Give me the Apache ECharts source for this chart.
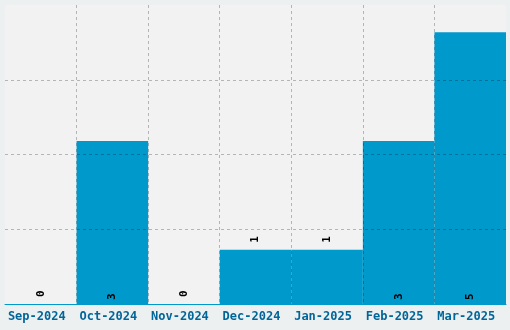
<!DOCTYPE html>
<html>
<head>
<meta charset="utf-8">
<script src="https://cdn.jsdelivr.net/npm/echarts@6/dist/echarts.min.js"></script>
<style>
html,body{margin:0;padding:0;background:#edf0f1;}
#c{width:510px;height:330px;}
</style>
</head>
<body>
<div id="c"></div>
<script>
const categories = ['Sep-2024','Oct-2024','Nov-2024','Dec-2024','Jan-2025','Feb-2025','Mar-2025'];
const counts = [0, 3, 0, 1, 1, 3, 5];
const yMax = 5.5;
const yInterval = 1.375;

const chart = echarts.init(document.getElementById('c'), null, {renderer:'canvas'});
chart.setOption({
  backgroundColor: '#edf0f1',
  animation: false,
  grid: {left: 5, right: 4, top: 5, bottom: 26, show: true, backgroundColor: '#f2f2f2', borderWidth: 0},
  xAxis: {
    type: 'category',
    data: categories,
    z: 5,
    axisLine: {show: true, lineStyle: {color: '#0099cc', width: 1}},
    axisTick: {show: false},
    axisLabel: {
      interval: 0,
      color: '#006699', fontFamily: 'DejaVu Sans Mono', fontWeight: 'bold', fontSize: 12,
      margin: 7, padding: [0, 8, 0, 0]
    },
    splitLine: {show: true, interval: 0, showMinLine: false, showMaxLine: false,
      lineStyle: {color: 'rgba(0,0,0,0.25)', type: [3, 3], width: 1}}
  },
  yAxis: {
    type: 'value', min: 0, max: yMax, interval: yInterval, z: 5,
    axisLine: {show: false}, axisTick: {show: false}, axisLabel: {show: false},
    splitLine: {show: true, showMinLine: false, showMaxLine: false,
      lineStyle: {color: 'rgba(0,0,0,0.25)', type: [3, 3], width: 1}}
  },
  series: [{
    type: 'bar',
    z: 2,
    barCategoryGap: 0,
    itemStyle: {color: '#0099cc'},
    data: counts.map(v => ({
      value: v,
      label: {
        show: true,
        position: v < 2 ? 'top' : 'insideBottom',
        distance: v < 2 ? 7 : 4,
        rotate: 90,
        align: 'left',
        verticalAlign: 'middle',
        color: '#000',
        fontFamily: 'DejaVu Sans Mono',
        fontWeight: 'bold',
        fontSize: 11
      }
    }))
  }]
});
</script>
</body>
</html>
